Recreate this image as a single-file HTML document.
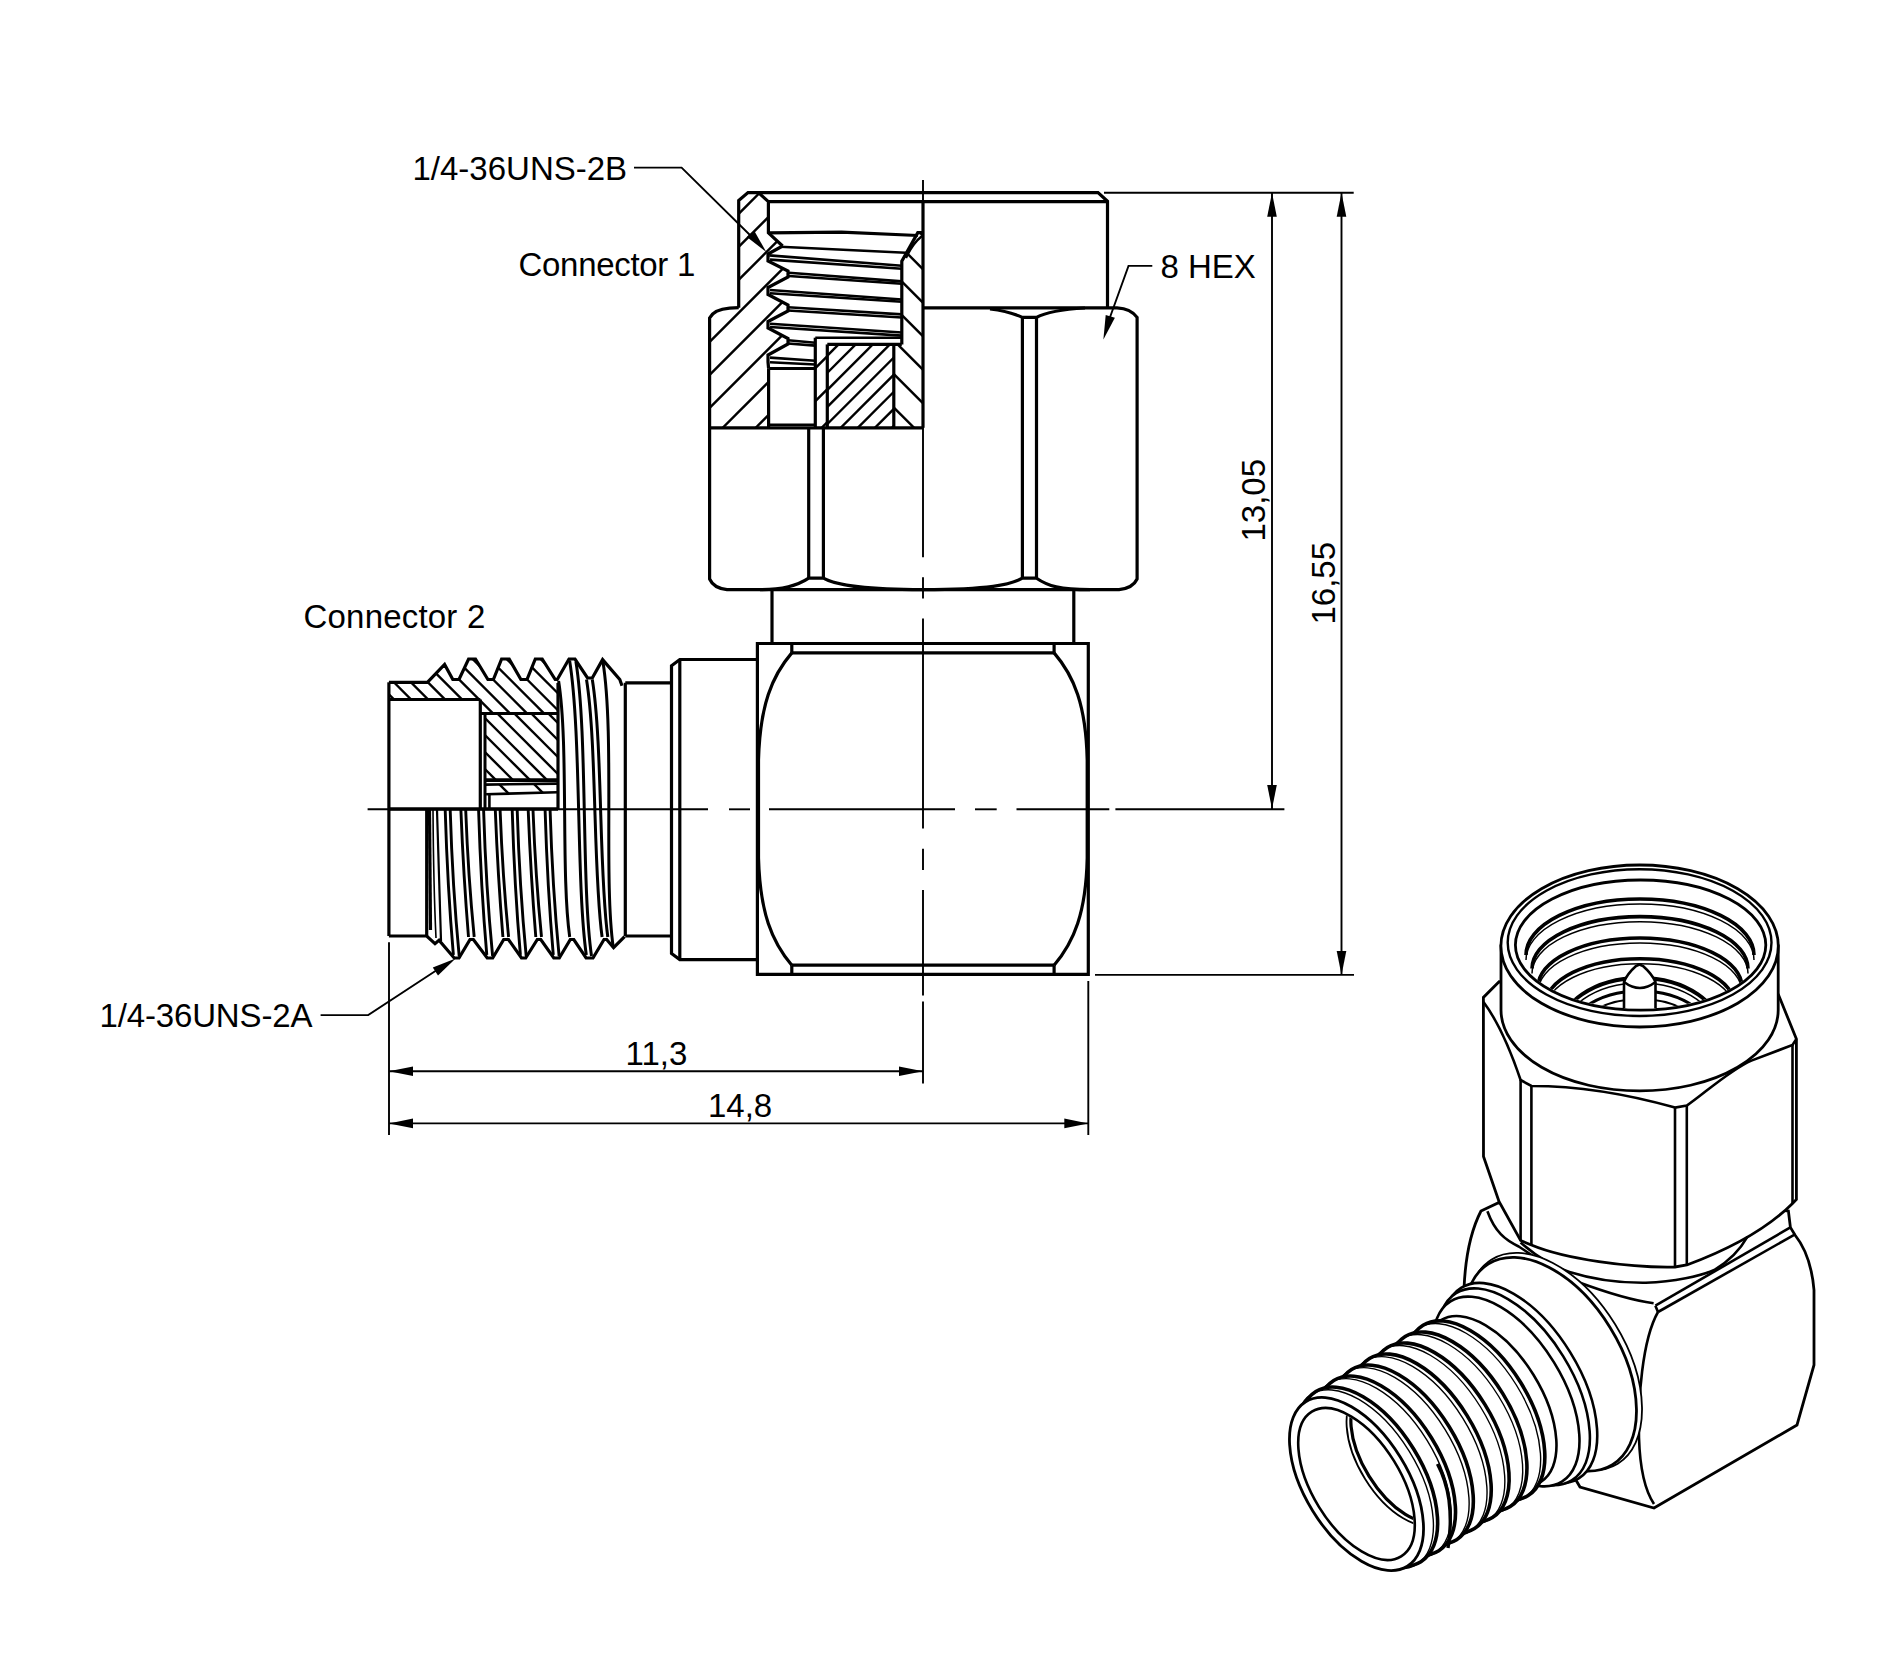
<!DOCTYPE html>
<html><head><meta charset="utf-8"><style>
html,body{margin:0;padding:0;background:#fff;}
svg{display:block;}
text{font-family:"Liberation Sans",sans-serif;fill:#000;stroke:none;}
</style></head><body>
<svg width="1892" height="1654" viewBox="0 0 1892 1654">
<rect width="1892" height="1654" fill="#fff"/>
<g stroke="#000" fill="none" stroke-linecap="butt" stroke-linejoin="miter">
<clipPath id="cp1"><path d="M748.0 192.6 L758.4 192.6 L768.4 201.6 L768.4 232.8 L782.6 246.0 L768.0 254.0 L768.0 261.0 L788.0 271.0 L788.0 277.0 L768.0 287.5 L768.0 294.5 L788.0 305.0 L788.0 311.0 L768.0 321.5 L768.0 328.0 L788.0 338.5 L788.0 344.0 L768.0 355.0 L768.0 362.0 L768.6 368.5 L768.6 427.5 L709.6 427.5 L709.6 318.0 L716.0 311.5 L729.6 308.2 L738.7 307.7 L738.7 200.4 Z"/></clipPath>
<g clip-path="url(#cp1)" stroke-width="2.4">
<line x1="704.6" y1="181.9" x2="793.0" y2="93.5"/>
<line x1="704.6" y1="214.9" x2="793.0" y2="126.5"/>
<line x1="704.6" y1="247.9" x2="793.0" y2="159.5"/>
<line x1="704.6" y1="280.9" x2="793.0" y2="192.5"/>
<line x1="704.6" y1="313.9" x2="793.0" y2="225.5"/>
<line x1="704.6" y1="346.9" x2="793.0" y2="258.5"/>
<line x1="704.6" y1="379.9" x2="793.0" y2="291.5"/>
<line x1="704.6" y1="412.9" x2="793.0" y2="324.5"/>
<line x1="704.6" y1="445.9" x2="793.0" y2="357.5"/>
<line x1="704.6" y1="478.9" x2="793.0" y2="390.5"/>
</g>
<clipPath id="cp2"><path d="M815.3 338.0 L827.3 338.0 L827.3 427.5 L815.3 427.5 Z"/></clipPath>
<g clip-path="url(#cp2)" stroke-width="2.4">
<line x1="810.3" y1="340.2" x2="832.3" y2="318.2"/>
<line x1="810.3" y1="373.2" x2="832.3" y2="351.2"/>
<line x1="810.3" y1="406.2" x2="832.3" y2="384.2"/>
<line x1="810.3" y1="439.2" x2="832.3" y2="417.2"/>
</g>
<clipPath id="cp3"><path d="M827.3 344.4 L893.8 344.4 L893.8 427.5 L827.3 427.5 Z"/></clipPath>
<g clip-path="url(#cp3)" stroke-width="2.4">
<line x1="822.3" y1="343.6" x2="898.8" y2="267.1"/>
<line x1="822.3" y1="360.7" x2="898.8" y2="284.2"/>
<line x1="822.3" y1="377.8" x2="898.8" y2="301.3"/>
<line x1="822.3" y1="394.9" x2="898.8" y2="318.4"/>
<line x1="822.3" y1="412.0" x2="898.8" y2="335.5"/>
<line x1="822.3" y1="429.1" x2="898.8" y2="352.6"/>
<line x1="822.3" y1="446.2" x2="898.8" y2="369.7"/>
<line x1="822.3" y1="463.3" x2="898.8" y2="386.8"/>
<line x1="822.3" y1="480.4" x2="898.8" y2="403.9"/>
<line x1="822.3" y1="497.5" x2="898.8" y2="421.0"/>
</g>
<clipPath id="cp4"><path d="M901.8 261.0 L917.8 232.6 L923.0 232.6 L923.0 427.5 L893.8 427.5 L893.8 344.4 L901.8 344.4 Z"/></clipPath>
<g clip-path="url(#cp4)" stroke-width="2.4">
<line x1="888.8" y1="168.0" x2="928.0" y2="207.2"/>
<line x1="888.8" y1="201.5" x2="928.0" y2="240.7"/>
<line x1="888.8" y1="235.0" x2="928.0" y2="274.2"/>
<line x1="888.8" y1="268.5" x2="928.0" y2="307.7"/>
<line x1="888.8" y1="302.0" x2="928.0" y2="341.2"/>
<line x1="888.8" y1="335.5" x2="928.0" y2="374.7"/>
<line x1="888.8" y1="369.0" x2="928.0" y2="408.2"/>
<line x1="888.8" y1="402.5" x2="928.0" y2="441.7"/>
</g>
<path d="M738.7 307.7 L738.7 200.4 L748.0 192.6 L1098.0 192.6 L1107.5 201.2 L1107.5 307.8" stroke-width="3.2" fill="none" />
<line x1="768.4" y1="201.6" x2="1107.5" y2="201.6" stroke-width="3.2"/>
<path d="M758.4 192.6 L768.4 201.6 L768.4 232.8 L782.6 246.0" stroke-width="3.2" fill="none" />
<path d="M768.4 232.8 L841.5 232.2 L917.8 235.5" stroke-width="3.2" fill="none" />
<path d="M782.6 246.0 L768.0 254.0 L768.0 261.0 L788.0 271.0 L788.0 277.0 L768.0 287.5 L768.0 294.5 L788.0 305.0 L788.0 311.0 L768.0 321.5 L768.0 328.0 L788.0 338.5 L788.0 344.0 L768.0 355.0 L768.0 362.0 L768.6 368.5 L768.6 368.5" stroke-width="3.2" fill="none" />
<line x1="780.2" y1="246.8" x2="905.9" y2="252.8" stroke-width="2.6"/>
<line x1="769.2" y1="255.4" x2="901.8" y2="265.7" stroke-width="2.6"/>
<line x1="770.0" y1="259.6" x2="901.8" y2="268.8" stroke-width="2.6"/>
<line x1="788.8" y1="272.7" x2="901.8" y2="281.4" stroke-width="2.6"/>
<line x1="788.8" y1="276.0" x2="901.8" y2="283.7" stroke-width="2.6"/>
<line x1="770.0" y1="290.0" x2="901.8" y2="299.5" stroke-width="2.6"/>
<line x1="770.0" y1="293.2" x2="901.8" y2="301.8" stroke-width="2.6"/>
<line x1="788.0" y1="307.3" x2="901.8" y2="314.4" stroke-width="2.6"/>
<line x1="788.0" y1="310.5" x2="901.8" y2="317.5" stroke-width="2.6"/>
<line x1="770.0" y1="323.8" x2="901.8" y2="332.5" stroke-width="2.6"/>
<line x1="770.0" y1="327.0" x2="901.8" y2="335.6" stroke-width="2.6"/>
<line x1="788.0" y1="340.3" x2="815.3" y2="342.7" stroke-width="2.6"/>
<line x1="788.0" y1="343.5" x2="815.3" y2="345.6" stroke-width="2.6"/>
<line x1="770.0" y1="357.6" x2="815.3" y2="360.7" stroke-width="2.6"/>
<line x1="770.0" y1="362.3" x2="815.3" y2="364.5" stroke-width="2.6"/>
<path d="M901.8 344.4 L901.8 261.2 L917.8 232.6 L923.0 232.6" stroke-width="3.2" fill="none" />
<path d="M906 258 Q912 244 922 236" stroke-width="2.4" fill="none" />
<line x1="815.3" y1="337.7" x2="815.3" y2="428.2" stroke-width="3.2"/>
<line x1="827.3" y1="344.4" x2="827.3" y2="428.2" stroke-width="3.2"/>
<line x1="815.3" y1="337.7" x2="901.8" y2="337.7" stroke-width="2.6"/>
<line x1="827.3" y1="344.4" x2="901.8" y2="344.4" stroke-width="3.2"/>
<line x1="893.8" y1="344.4" x2="893.8" y2="428.2" stroke-width="3.2"/>
<path d="M768.6 368.5 L814.9 368.5" stroke-width="3" fill="none" />
<line x1="768.6" y1="368.5" x2="768.6" y2="428.2" stroke-width="3.2"/>
<line x1="768.6" y1="424.7" x2="814.9" y2="424.7" stroke-width="2.6"/>
<line x1="709.6" y1="427.8" x2="923.0" y2="427.8" stroke-width="3.2"/>
<line x1="923.0" y1="201.6" x2="923.0" y2="427.8" stroke-width="3.2"/>
<path d="M738.7 307.7 L729.6 308.2 Q714 309.5 709.6 318 L709.6 579 Q713.5 588 727 589.7 L1119 589.7 Q1133 588 1137.1 579 L1137.1 317.4 Q1131 308.5 1117 307.8 L923 307.8" stroke-width="3.2" fill="none" />
<line x1="808.7" y1="427.8" x2="808.7" y2="578.2" stroke-width="3.2"/>
<line x1="823.4" y1="427.8" x2="823.4" y2="578.2" stroke-width="3.2"/>
<line x1="1022.4" y1="317.4" x2="1022.4" y2="578.2" stroke-width="3.2"/>
<line x1="1036.5" y1="317.4" x2="1036.5" y2="578.2" stroke-width="3.2"/>
<path d="M990 309 Q1008 311 1022.4 317.4 L1036.5 317.4 Q1050 310 1085 308" stroke-width="3.2" fill="none" />
<path d="M760 589.7 C783 590 797 586 808.7 578.2 L823.4 578.2 C835 585 860 589.5 923 589.7 C990 589.5 1010 585 1022.4 578.2 L1036.5 578.2 C1048 586 1060 589.7 1090 589.7" stroke-width="3.2" fill="none" />
<line x1="772.0" y1="589.7" x2="772.0" y2="643.6" stroke-width="3.2"/>
<line x1="1073.8" y1="589.7" x2="1073.8" y2="643.6" stroke-width="3.2"/>
<path d="M757.4 643.5 L1088.3 643.5 L1088.3 974.4 L757.4 974.4 Z" stroke-width="3.2" fill="none" />
<line x1="791.8" y1="652.9" x2="1054.1" y2="652.9" stroke-width="3.2"/>
<line x1="791.8" y1="965.2" x2="1054.1" y2="965.2" stroke-width="3.2"/>
<line x1="791.8" y1="643.5" x2="791.8" y2="652.9" stroke-width="3.2"/>
<line x1="791.8" y1="965.2" x2="791.8" y2="974.4" stroke-width="3.2"/>
<line x1="1054.1" y1="643.5" x2="1054.1" y2="652.9" stroke-width="3.2"/>
<line x1="1054.1" y1="965.2" x2="1054.1" y2="974.4" stroke-width="3.2"/>
<path d="M791.8 652.9 C772 676 760 705 758.5 760 L758.5 858 C760 913 772 942 791.8 965.2" stroke-width="3.2" fill="none" />
<path d="M1054.1 652.9 C1074 676 1086 705 1087.2 760 L1087.2 858 C1086 913 1074 942 1054.1 965.2" stroke-width="3.2" fill="none" />
<path d="M757.4 659.5 L679.8 659.5 L671.5 665.7 L671.5 953.5 L679.8 959.6 L757.4 959.6" stroke-width="3.2" fill="none" />
<line x1="679.8" y1="659.5" x2="679.8" y2="959.6" stroke-width="3.2"/>
<path d="M671.5 682.8 L625.3 682.8 M625.3 936 L671.5 936" stroke-width="3.2" fill="none" />
<line x1="625.3" y1="682.8" x2="625.3" y2="936.0" stroke-width="3.2"/>
<path d="M388.9 682.3 L427.4 682.3 L444.6 664.4 L452.8 679.5 L459.0 679.5 L468.6 659.0 L475.5 659.0 L487.9 679.5 L493.4 679.5 L501.6 659.0 L509.2 659.0 L520.9 679.5 L527.0 679.5 L535.3 659.0 L542.2 659.0 L555.2 679.5 L557.3 679.5 L569.0 659.0 L575.0 659.0 L587.5 678.0 L592.3 678.0 L602.6 659.6 L619.8 679.5 L622.0 685.7" stroke-width="3.2" fill="none" />
<path d="M388.9 936.0 L426.7 936.0 L435.0 943.6 L439.0 940.2 L454.2 958.0 L459.0 958.0 L470.0 939.5 L473.4 939.5 L487.2 958.0 L492.7 958.0 L503.7 939.5 L508.5 939.5 L521.5 958.0 L525.7 958.0 L537.3 939.5 L540.8 939.5 L553.8 958.0 L559.3 958.0 L570.3 939.5 L573.8 939.5 L586.1 958.0 L593.0 958.0 L604.0 939.5 L606.7 939.5 L613.6 947.7 L624.6 936.7" stroke-width="3.2" fill="none" />
<line x1="388.9" y1="682.3" x2="388.9" y2="936.0" stroke-width="3.2"/>
<line x1="426.7" y1="809.0" x2="426.7" y2="936.0" stroke-width="3.2"/>
<line x1="429.5" y1="810.0" x2="430.5" y2="930.0" stroke-width="3.2"/>
<line x1="489.4" y1="794.3" x2="489.4" y2="809.0" stroke-width="2.6"/>
<clipPath id="cp5"><path d="M485.0 784.0 L558.0 784.0 L558.0 792.2 L486.1 794.3 Z"/></clipPath>
<g clip-path="url(#cp5)" stroke-width="2.4">
<line x1="480.0" y1="695.0" x2="563.0" y2="778.0"/>
<line x1="480.0" y1="730.0" x2="563.0" y2="813.0"/>
<line x1="480.0" y1="765.0" x2="563.0" y2="848.0"/>
</g>
<clipPath id="cp6"><path d="M388.9 682.3 L427.4 682.3 L444.6 664.4 L452.8 679.5 L459.0 679.5 L468.6 659.0 L475.5 659.0 L487.9 679.5 L493.4 679.5 L501.6 659.0 L509.2 659.0 L520.9 679.5 L527.0 679.5 L535.3 659.0 L542.2 659.0 L555.2 679.5 L557.3 679.5 L558.0 683.0 L558.0 713.5 L485.0 713.5 L480.3 699.5 L388.9 699.5 Z"/></clipPath>
<g clip-path="url(#cp6)" stroke-width="2.4">
<line x1="383.9" y1="468.3" x2="563.0" y2="647.4"/>
<line x1="383.9" y1="485.3" x2="563.0" y2="664.4"/>
<line x1="383.9" y1="502.3" x2="563.0" y2="681.4"/>
<line x1="383.9" y1="519.3" x2="563.0" y2="698.4"/>
<line x1="383.9" y1="536.3" x2="563.0" y2="715.4"/>
<line x1="383.9" y1="553.3" x2="563.0" y2="732.4"/>
<line x1="383.9" y1="570.3" x2="563.0" y2="749.4"/>
<line x1="383.9" y1="587.3" x2="563.0" y2="766.4"/>
<line x1="383.9" y1="604.3" x2="563.0" y2="783.4"/>
<line x1="383.9" y1="621.3" x2="563.0" y2="800.4"/>
<line x1="383.9" y1="638.3" x2="563.0" y2="817.4"/>
<line x1="383.9" y1="655.3" x2="563.0" y2="834.4"/>
<line x1="383.9" y1="672.3" x2="563.0" y2="851.4"/>
<line x1="383.9" y1="689.3" x2="563.0" y2="868.4"/>
<line x1="383.9" y1="706.3" x2="563.0" y2="885.4"/>
</g>
<clipPath id="cp7"><path d="M485.0 713.5 L558.0 713.5 L558.0 780.0 L485.0 780.0 Z"/></clipPath>
<g clip-path="url(#cp7)" stroke-width="2.4">
<line x1="480.0" y1="628.1" x2="563.0" y2="711.1"/>
<line x1="480.0" y1="645.1" x2="563.0" y2="728.1"/>
<line x1="480.0" y1="662.1" x2="563.0" y2="745.1"/>
<line x1="480.0" y1="679.1" x2="563.0" y2="762.1"/>
<line x1="480.0" y1="696.1" x2="563.0" y2="779.1"/>
<line x1="480.0" y1="713.1" x2="563.0" y2="796.1"/>
<line x1="480.0" y1="730.1" x2="563.0" y2="813.1"/>
<line x1="480.0" y1="747.1" x2="563.0" y2="830.1"/>
<line x1="480.0" y1="764.1" x2="563.0" y2="847.1"/>
</g>
<line x1="388.9" y1="699.5" x2="480.3" y2="699.5" stroke-width="3.2"/>
<line x1="480.3" y1="699.5" x2="480.3" y2="809.0" stroke-width="3.2"/>
<line x1="485.0" y1="713.5" x2="485.0" y2="809.0" stroke-width="3.0"/>
<line x1="480.3" y1="713.5" x2="558.0" y2="713.5" stroke-width="3.2"/>
<line x1="485.0" y1="780.2" x2="558.0" y2="780.2" stroke-width="3.8"/>
<line x1="485.0" y1="784.6" x2="558.0" y2="783.6" stroke-width="2.6"/>
<line x1="486.1" y1="794.3" x2="557.2" y2="792.2" stroke-width="2.6"/>
<line x1="558.0" y1="683.0" x2="558.0" y2="809.0" stroke-width="3.2"/>
<line x1="388.9" y1="809.0" x2="558.0" y2="809.0" stroke-width="3.4"/>
<path d="M445.2 810.0 Q447.5 887.5 453.4 955.0" stroke-width="2.9" fill="none" />
<path d="M450.2 810.0 Q452.5 887.0 459.2 956.0" stroke-width="2.9" fill="none" />
<path d="M478.6 810.0 Q480.9 887.5 486.8 955.0" stroke-width="2.9" fill="none" />
<path d="M483.6 810.0 Q485.9 887.0 492.6 956.0" stroke-width="2.9" fill="none" />
<path d="M512.2 810.0 Q514.5 887.5 520.4 955.0" stroke-width="2.9" fill="none" />
<path d="M517.2 810.0 Q519.5 887.0 526.2 956.0" stroke-width="2.9" fill="none" />
<path d="M545.1 810.0 Q547.4 887.5 553.3 955.0" stroke-width="2.9" fill="none" />
<path d="M550.1 810.0 Q552.4 887.0 559.1 956.0" stroke-width="2.9" fill="none" />
<path d="M460.9 810.0 Q463.5 876.5 468.5 937.0" stroke-width="2.9" fill="none" />
<path d="M465.7 810.0 Q468.2 876.5 474.2 937.0" stroke-width="2.9" fill="none" />
<path d="M495.3 810.0 Q497.9 876.5 502.9 937.0" stroke-width="2.9" fill="none" />
<path d="M500.1 810.0 Q502.6 876.5 508.6 937.0" stroke-width="2.9" fill="none" />
<path d="M528.2 810.0 Q530.8 876.5 535.8 937.0" stroke-width="2.9" fill="none" />
<path d="M533.0 810.0 Q535.5 876.5 541.5 937.0" stroke-width="2.9" fill="none" />
<path d="M433.0 810.0 Q433.5 886.0 436.0 938.0" stroke-width="1.6" fill="none" />
<path d="M437.0 810.0 Q439.0 884.5 441.0 941.0" stroke-width="2.2" fill="none" />
<path d="M558.6 681.0 C568.8 745.0 560.7 873.0 569.7 937.0" stroke-width="3.0" fill="none" />
<path d="M569.6 660.6 C581.5 734.8 576.1 882.0 586.3 955.0" stroke-width="3.0" fill="none" />
<path d="M575.9 661.6 C587.7 735.3 581.2 882.5 591.5 956.0" stroke-width="3.0" fill="none" />
<path d="M586.5 679.6 C596.9 744.3 593.1 873.0 602.1 937.0" stroke-width="3.0" fill="none" />
<path d="M592.3 679.6 C602.7 744.3 598.8 873.0 607.8 937.0" stroke-width="3.0" fill="none" />
<path d="M602.9 661.6 C614.7 735.3 603.5 878.0 613.2 947.0" stroke-width="3.0" fill="none" />
<line x1="923.0" y1="180.0" x2="923.0" y2="557.2" stroke-width="1.9"/>
<line x1="923.0" y1="577.2" x2="923.0" y2="598.6" stroke-width="1.9"/>
<line x1="923.0" y1="618.6" x2="923.0" y2="828.4" stroke-width="1.9"/>
<line x1="923.0" y1="848.7" x2="923.0" y2="869.9" stroke-width="1.9"/>
<line x1="923.0" y1="890.1" x2="923.0" y2="995.5" stroke-width="1.9"/>
<line x1="923.0" y1="1001.5" x2="923.0" y2="1083.6" stroke-width="1.9"/>
<line x1="367.6" y1="809.3" x2="708.0" y2="809.3" stroke-width="1.9"/>
<line x1="729.0" y1="809.3" x2="750.0" y2="809.3" stroke-width="1.9"/>
<line x1="769.0" y1="809.3" x2="955.0" y2="809.3" stroke-width="1.9"/>
<line x1="975.0" y1="809.3" x2="996.7" y2="809.3" stroke-width="1.9"/>
<line x1="1016.5" y1="809.3" x2="1109.3" y2="809.3" stroke-width="1.9"/>
<line x1="1104.0" y1="192.7" x2="1353.7" y2="192.7" stroke-width="1.9"/>
<line x1="1115.4" y1="809.3" x2="1284.4" y2="809.3" stroke-width="1.9"/>
<line x1="1095.0" y1="974.9" x2="1354.0" y2="974.9" stroke-width="1.9"/>
<line x1="1272.0" y1="192.7" x2="1272.0" y2="809.0" stroke-width="1.9"/>
<line x1="1341.5" y1="192.7" x2="1341.5" y2="974.9" stroke-width="1.9"/>
<path d="M1272.0 192.7 L1276.8 216.7 L1267.2 216.7 Z" fill="#000" stroke="none"/>
<path d="M1272.0 809.0 L1267.2 785.0 L1276.8 785.0 Z" fill="#000" stroke="none"/>
<path d="M1341.5 192.7 L1346.3 216.7 L1336.7 216.7 Z" fill="#000" stroke="none"/>
<path d="M1341.5 974.9 L1336.7 950.9 L1346.3 950.9 Z" fill="#000" stroke="none"/>
<line x1="389.0" y1="942.3" x2="389.0" y2="1135.0" stroke-width="1.9"/>
<line x1="1088.3" y1="981.0" x2="1088.3" y2="1135.0" stroke-width="1.9"/>
<line x1="389.0" y1="1071.2" x2="923.0" y2="1071.2" stroke-width="1.9"/>
<line x1="389.0" y1="1123.4" x2="1088.3" y2="1123.4" stroke-width="1.9"/>
<path d="M389.0 1071.2 L413.0 1066.4 L413.0 1076.0 Z" fill="#000" stroke="none"/>
<path d="M923.0 1071.2 L899.0 1076.0 L899.0 1066.4 Z" fill="#000" stroke="none"/>
<path d="M389.0 1123.4 L413.0 1118.6 L413.0 1128.2 Z" fill="#000" stroke="none"/>
<path d="M1088.3 1123.4 L1064.3 1128.2 L1064.3 1118.6 Z" fill="#000" stroke="none"/>
<path d="M634 167.6 L681.6 167.6 L755 240" stroke-width="1.9" fill="none" />
<path d="M766.3 252.1 L746.9 237.1 L754.2 230.8 Z" fill="#000" stroke="none"/>
<path d="M1152.3 265.9 L1128.5 265.9 L1109 320" stroke-width="1.9" fill="none" />
<path d="M1103.4 339.4 L1105.7 315.0 L1114.9 317.8 Z" fill="#000" stroke="none"/>
<path d="M320.6 1015.1 L368.2 1015.1 L440 968" stroke-width="1.9" fill="none" />
<path d="M455.6 958.5 L438.0 975.5 L432.8 967.5 Z" fill="#000" stroke="none"/>
<text x="412.5" y="180" font-size="33" text-anchor="start">1/4-36UNS-2B</text>
<text x="518.5" y="276" font-size="33" text-anchor="start" letter-spacing="-0.3">Connector 1</text>
<text x="1160.5" y="278.1" font-size="33" text-anchor="start">8 HEX</text>
<text x="303.5" y="627.8" font-size="33" text-anchor="start" letter-spacing="0.2">Connector 2</text>
<text x="99.5" y="1027.4" font-size="33" text-anchor="start" letter-spacing="-0.15">1/4-36UNS-2A</text>
<text x="625.5" y="1064.7" font-size="33" text-anchor="start">11,3</text>
<text x="708" y="1117" font-size="33" text-anchor="start">14,8</text>
<text x="1264.7" y="541.5" font-size="33" text-anchor="start" transform="rotate(-90 1264.7 541.5)">13,05</text>
<text x="1335.4" y="624.5" font-size="33" text-anchor="start" transform="rotate(-90 1335.4 624.5)">16,55</text>
<path d="M1481 1211 L1498 1203 L1700 1200 L1788.4 1211 L1790.4 1227.4 L1795 1235 Q1811 1255 1814 1290 L1814 1365 L1797 1425 L1654 1508 L1580 1487 L1464 1289 Q1466 1240 1481 1211 Z" stroke-width="2.8" fill="#fff" />
<path d="M1658 1312 L1794.6 1234.6" stroke-width="2.6" fill="none" />
<path d="M1655.4 1305.7 L1790.4 1227.4" stroke-width="2.6" fill="none" />
<path d="M1658 1312 C1642 1340 1638 1400 1639 1438 C1640 1470 1646 1492 1654 1504" stroke-width="2.6" fill="none" />
<path d="M1655.4 1305.7 L1658 1312" stroke-width="2.6" fill="none" />
<path d="M1487.4 1211.3 C1495 1232 1505 1240 1518.7 1246.5 C1540 1260 1560 1276 1577.3 1281.7 C1605 1292 1630 1300 1653.6 1303.2" stroke-width="2.6" fill="none" />
<path d="M1499 981.8 L1483.4 997.4 L1483.5 1156.4 L1499 1201.4 L1520.6 1240.5 L1531.4 1245 C1565 1259 1630 1268 1675 1267 L1686.8 1265 C1730 1249 1768 1228 1792.5 1203.4 L1796.4 1199.5 L1796.4 1039 L1778.5 994.8 Z" stroke-width="2.8" fill="#fff" />
<path d="M1520.6 1080 L1520.6 1240.5" stroke-width="2.6" fill="none" />
<path d="M1531.4 1086 L1531.4 1245" stroke-width="2.6" fill="none" />
<path d="M1675 1107.6 L1675 1267" stroke-width="2.6" fill="none" />
<path d="M1686.8 1105.6 L1686.8 1265" stroke-width="2.6" fill="none" />
<path d="M1792.5 1045 L1792.5 1203.4" stroke-width="2.6" fill="none" />
<path d="M1483.5 1002 Q1503 1028 1520.6 1080 L1531.4 1086 C1570 1086 1620 1092 1675 1107.6 L1686.8 1105.6 C1705 1093 1730 1070 1751.4 1060.6 L1792.5 1045 L1796.4 1039" stroke-width="2.6" fill="none" />
<path d="M1520.6 1242.6 C1535 1255 1550 1266 1569.5 1271.9 C1595 1280 1620 1283 1645.8 1282.7 C1675 1282 1700 1276 1714.2 1270 C1728 1262 1740 1250 1747.5 1236.7" stroke-width="2.6" fill="none" />
<path d="M1501 946 L1501 1010 A138.6 81 0 0 0 1778.2 1010 L1778.2 946 Z" stroke-width="2.8" fill="#fff" />
<ellipse cx="1639.6" cy="946.0" rx="138.7" ry="81.0" stroke-width="2.8" fill="#fff" />
<ellipse cx="1639.6" cy="942.6" rx="131.9" ry="73.4" stroke-width="2.4" fill="#fff" />
<ellipse cx="1640.6" cy="945.0" rx="125.2" ry="65.0" stroke-width="2.8" fill="#fff" />
<clipPath id="bore"><ellipse cx="1640.6" cy="945" rx="123.8" ry="63.6"/></clipPath>
<g clip-path="url(#bore)">
<path d="M1526.0 955.0 A114 56 0 0 1 1754.0 955.0" stroke-width="3.6" fill="none" />
<path d="M1526.0 960.0 A114 56 0 0 1 1754.0 960.0" stroke-width="1.5" fill="none" />
<path d="M1532.0 968.6 A108 52 0 0 1 1748.0 968.6" stroke-width="3.6" fill="none" />
<path d="M1532.0 973.6 A108 52 0 0 1 1748.0 973.6" stroke-width="1.5" fill="none" />
<path d="M1538.0 987.0 A102 49 0 0 1 1742.0 987.0" stroke-width="3.6" fill="none" />
<path d="M1538.0 992.0 A102 49 0 0 1 1742.0 992.0" stroke-width="1.5" fill="none" />
<path d="M1545.0 1005.7 A95 47 0 0 1 1735.0 1005.7" stroke-width="3.6" fill="none" />
<path d="M1545.0 1010.7 A95 47 0 0 1 1735.0 1010.7" stroke-width="1.5" fill="none" />
<path d="M1558.0 1034.0 A82 56 0 0 1 1722.0 1034.0" stroke-width="3.8" fill="none" />
<path d="M1560.0 1038.0 A80 55 0 0 1 1720.0 1038.0" stroke-width="1.6" fill="none" />
<path d="M1562.0 1046.0 A78 55 0 0 1 1718.0 1046.0" stroke-width="3.0" fill="none" />
<path d="M1566.0 1052.0 A74 53 0 0 1 1714.0 1052.0" stroke-width="2.2" fill="none" />
<path d="M1624 1012 L1624 982 Q1627 974 1636 966 L1639.5 964.5 L1643 966 Q1652 974 1655.5 982 L1655.5 1012" stroke-width="2.6" fill="#fff" />
<path d="M1624 982 Q1640 994 1655.5 982" stroke-width="2.4" fill="none" />
</g>
<ellipse cx="1554.7" cy="1361.6" rx="120.0" ry="71.0" transform="rotate(58.30 1554.7 1361.6)" stroke-width="1.8" fill="#fff" />
<ellipse cx="1550.5" cy="1364.2" rx="118.0" ry="70.0" transform="rotate(58.30 1550.5 1364.2)" stroke-width="2.8" fill="#fff" />
<ellipse cx="1519.9" cy="1383.1" rx="112.0" ry="59.0" transform="rotate(58.30 1519.9 1383.1)" stroke-width="2.6" fill="#fff" />
<ellipse cx="1513.9" cy="1386.8" rx="110.0" ry="58.0" transform="rotate(58.30 1513.9 1386.8)" stroke-width="2.6" fill="#fff" />
<ellipse cx="1506.2" cy="1391.5" rx="106.0" ry="56.0" transform="rotate(58.30 1506.2 1391.5)" stroke-width="2.6" fill="#fff" />
<ellipse cx="1490.9" cy="1401.0" rx="95.0" ry="50.0" transform="rotate(58.30 1490.9 1401.0)" stroke-width="2.6" fill="#fff" />
<ellipse cx="1475.6" cy="1410.4" rx="100.0" ry="53.0" transform="rotate(58.30 1475.6 1410.4)" stroke-width="3.6" fill="#fff" />
<ellipse cx="1471.4" cy="1413.1" rx="100.0" ry="53.0" transform="rotate(58.30 1471.4 1413.1)" stroke-width="1.4" fill="none" />
<ellipse cx="1457.7" cy="1421.5" rx="100.0" ry="53.0" transform="rotate(58.30 1457.7 1421.5)" stroke-width="3.6" fill="#fff" />
<ellipse cx="1453.5" cy="1424.1" rx="100.0" ry="53.0" transform="rotate(58.30 1453.5 1424.1)" stroke-width="1.4" fill="none" />
<ellipse cx="1439.9" cy="1432.5" rx="100.0" ry="53.0" transform="rotate(58.30 1439.9 1432.5)" stroke-width="3.6" fill="#fff" />
<ellipse cx="1435.6" cy="1435.1" rx="100.0" ry="53.0" transform="rotate(58.30 1435.6 1435.1)" stroke-width="1.4" fill="none" />
<ellipse cx="1422.0" cy="1443.5" rx="100.0" ry="53.0" transform="rotate(58.30 1422.0 1443.5)" stroke-width="3.6" fill="#fff" />
<ellipse cx="1417.8" cy="1446.2" rx="100.0" ry="53.0" transform="rotate(58.30 1417.8 1446.2)" stroke-width="1.4" fill="none" />
<ellipse cx="1404.1" cy="1454.6" rx="100.0" ry="53.0" transform="rotate(58.30 1404.1 1454.6)" stroke-width="3.6" fill="#fff" />
<ellipse cx="1399.9" cy="1457.2" rx="100.0" ry="53.0" transform="rotate(58.30 1399.9 1457.2)" stroke-width="1.4" fill="none" />
<ellipse cx="1386.3" cy="1465.6" rx="100.0" ry="53.0" transform="rotate(58.30 1386.3 1465.6)" stroke-width="3.6" fill="#fff" />
<ellipse cx="1382.0" cy="1468.2" rx="100.0" ry="53.0" transform="rotate(58.30 1382.0 1468.2)" stroke-width="1.4" fill="none" />
<ellipse cx="1368.4" cy="1476.6" rx="100.0" ry="53.0" transform="rotate(58.30 1368.4 1476.6)" stroke-width="3.6" fill="#fff" />
<ellipse cx="1364.2" cy="1479.3" rx="100.0" ry="53.0" transform="rotate(58.30 1364.2 1479.3)" stroke-width="1.4" fill="none" />
<ellipse cx="1356.5" cy="1484.0" rx="96.7" ry="51.4" transform="rotate(58.30 1356.5 1484.0)" stroke-width="2.8" fill="#fff" />
<ellipse cx="1356.5" cy="1484.0" rx="85.0" ry="44.0" transform="rotate(58.30 1356.5 1484.0)" stroke-width="2.6" fill="#fff" />
<clipPath id="fbore"><ellipse cx="1356.5" cy="1484.0" rx="83.5" ry="42.5" transform="rotate(58.3 1356.5 1484.0)"/></clipPath>
<g clip-path="url(#fbore)"><ellipse cx="1399.0" cy="1457.7" rx="76.0" ry="40.0" transform="rotate(58.30 1399.0 1457.7)" stroke-width="1.8" fill="none" /><ellipse cx="1400.5" cy="1456.7" rx="73.0" ry="37.0" transform="rotate(58.30 1400.5 1456.7)" stroke-width="3.2" fill="none" /></g>
<path d="M1437.5 1464 Q1446 1480 1449 1500 Q1452 1525 1448 1548" stroke-width="3.4" fill="none" />
</g>
</svg>
</body></html>
